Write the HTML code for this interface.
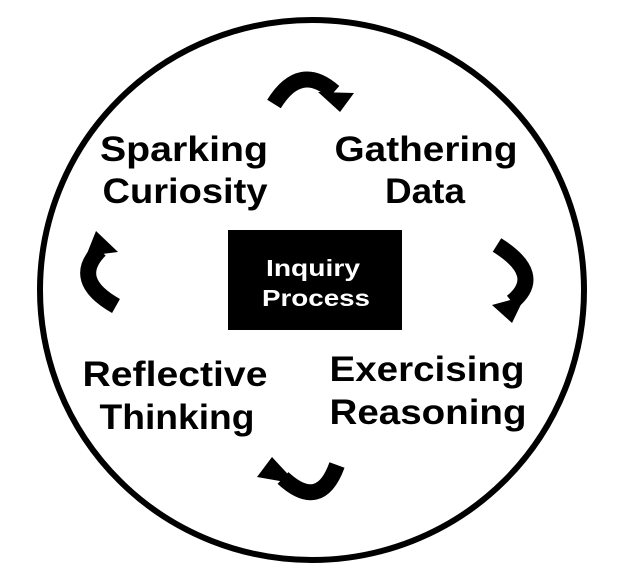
<html><body style="margin:0;background:#fff">
<svg width="621" height="569" xmlns="http://www.w3.org/2000/svg">
<ellipse cx="312" cy="290" rx="272" ry="270" fill="none" stroke="#000" stroke-width="6"/>
<rect x="228" y="230" width="174" height="100" fill="#000"/>
<g font-family="Liberation Sans, sans-serif" font-weight="bold" text-anchor="middle">
<text x="313" y="276" font-size="23" fill="#fff" textLength="94" lengthAdjust="spacingAndGlyphs">Inquiry</text>
<text x="316" y="306" font-size="23" fill="#fff" textLength="108" lengthAdjust="spacingAndGlyphs">Process</text>
<g font-size="35" fill="#000" lengthAdjust="spacingAndGlyphs">
<text x="184" y="161" textLength="168" lengthAdjust="spacingAndGlyphs">Sparking</text>
<text x="185" y="203" textLength="165" lengthAdjust="spacingAndGlyphs">Curiosity</text>
<text x="426" y="161" textLength="183" lengthAdjust="spacingAndGlyphs">Gathering</text>
<text x="425" y="203" textLength="80" lengthAdjust="spacingAndGlyphs">Data</text>
<text x="175" y="386" textLength="185" lengthAdjust="spacingAndGlyphs">Reflective</text>
<text x="177" y="429" textLength="155" lengthAdjust="spacingAndGlyphs">Thinking</text>
<text x="427" y="381" textLength="195" lengthAdjust="spacingAndGlyphs">Exercising</text>
<text x="428" y="424" textLength="197" lengthAdjust="spacingAndGlyphs">Reasoning</text>
</g></g>
<g fill="none" stroke="#000" stroke-width="16">
<path d="M274 104 Q300 62 334 92"/>
<path d="M116 306 Q70 280 100 250"/>
<path d="M497 245 Q545 275 512 302"/>
<path d="M337 465 Q320 512 283 478"/>
</g>
<g fill="#000">
<polygon points="318,92 354,93 340,112"/>
<polygon points="86,256 96,231 118,252"/>
<polygon points="525,296 512,323 492,305"/>
<polygon points="297,484 257,477 272,457"/>
</g>
</svg>
</body></html>
